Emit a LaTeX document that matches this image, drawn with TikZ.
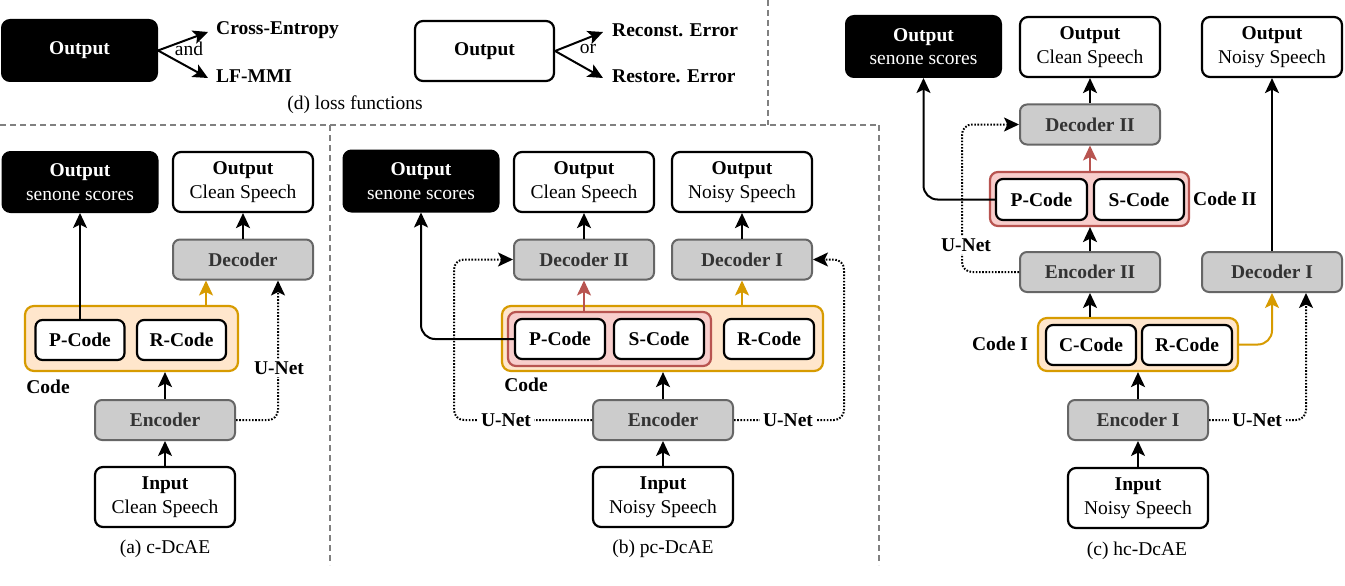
\documentclass[tikz,border=0pt]{standalone}
\usepackage{fontspec}
\setmainfont{Liberation Serif}
\usetikzlibrary{arrows.meta,calc}
\definecolor{orfill}{HTML}{FFE6CC}
\definecolor{ordraw}{HTML}{D79B00}
\definecolor{rdfill}{HTML}{F8CECC}
\definecolor{rddraw}{HTML}{B85450}
\definecolor{gyfill}{HTML}{CCCCCC}
\definecolor{gydraw}{HTML}{666666}
\definecolor{gytext}{HTML}{333333}
\definecolor{sepcol}{HTML}{808080}
\begin{document}
\begin{tikzpicture}[x=1pt,y=-1pt,
  every node/.style={font=\fontsize{19.5}{23.5}\selectfont, inner sep=0pt},
  sz/.style 2 args={minimum width=#1pt, minimum height=#2pt},
  blk/.style={draw=black, fill=black, text=white, rounded corners=8pt, line width=2pt, align=center},
  wht/.style={draw=black, fill=white, rounded corners=8pt, line width=2.2pt, align=center},
  gry/.style={draw=gydraw, fill=gyfill, text=gytext, rounded corners=7pt, line width=2pt, font=\fontsize{19.5}{23.5}\selectfont\bfseries},
  cod/.style={draw=black, fill=white, rounded corners=7pt, line width=2.2pt, font=\fontsize{19.5}{23.5}\selectfont\bfseries},
  orc/.style={draw=ordraw, fill=orfill, rounded corners=9pt, line width=2.2pt},
  rdc/.style={draw=rddraw, fill=rdfill, rounded corners=8pt, line width=2.2pt},
  lbl/.style={font=\fontsize{19.5}{23.5}\selectfont\bfseries},
  unet/.style={lbl, fill=white, inner sep=3pt},
  arr/.style={line width=2pt, -{Stealth[length=15pt,width=14pt,inset=3.5pt]}},
  dotarr/.style={arr, dash pattern=on 1.6pt off 1.6pt, rounded corners=10pt},
  sep/.style={draw=sepcol, line width=1.5pt, dash pattern=on 6pt off 4pt},
]
\fill[white] (0,0) rectangle (1345,586);
\useasboundingbox (0,0) rectangle (1345,586);

% separators
\draw[sep] (768,0) -- (768,125);
\draw[sep] (0,125) -- (879,125);
\draw[sep] (330,125) -- (330,565);
\draw[sep] (879,125) -- (879,565);

% (d) loss functions
\node[blk, sz={155}{61}] (lossB) at (79.5,50.5) {\textbf{Output}};
\node[lbl, anchor=west, inner xsep=8pt] (ce) at (208,30) {Cross-Entropy};
\node[lbl, anchor=west, inner xsep=8pt] (lf) at (208,76) {LF-MMI};
\node (and) at (189,49) {and};
\draw[arr] (lossB.east) -- ([yshift=-2pt]ce.west);
\draw[arr] (lossB.east) -- ([yshift=-2pt]lf.west);
\node[wht, sz={139}{60}] (lossW) at (484.5,51) {\textbf{Output}};
\node[lbl, anchor=west, inner xsep=9pt] (re) at (603,30) {Reconst. Error};
\node[lbl, anchor=west, inner xsep=9pt] (rs) at (603,76) {Restore. Error};
\node (or) at (588,49) {or};
\draw[arr] (lossW.east) -- ([yshift=-2pt]re.west);
\draw[arr] (lossW.east) -- ([yshift=-2pt]rs.west);
\node (capD) at (355,105) {(d) loss functions};

% (a) c-DcAE
\node[blk, sz={155}{60}] (outsA) at (80,182) {\textbf{Output}\\senone scores};
\node[wht, sz={140}{60}] (outcA) at (243,182) {\textbf{Output}\\Clean Speech};
\node[gry, sz={140}{40}] (decA) at (243,259.5) {Decoder};
\node[orc, sz={213}{65}] (codeA) at (131.5,338.5) {};
\node[cod, sz={89}{40}] (pA) at (80,340) {P-Code};
\node[cod, sz={89}{40}] (rA) at (181.5,340) {R-Code};
\node[lbl] (codeAl) at (48,387) {Code};
\node[gry, sz={140}{40}] (encA) at (165,420) {Encoder};
\node[wht, sz={140}{60}] (inA) at (165,497) {\textbf{Input}\\Clean Speech};
\node (capA) at (165,549) {(a) c-DcAE};
\draw[arr] (pA.north) -- (pA.north |- outsA.south);
\draw[arr] (decA.north) -- (outcA.south);
\draw[arr, color=ordraw] (codeA.north -| 206,0) -- (decA.south -| 206,0);
\draw[arr] (encA.north) -- (encA.north |- codeA.south);
\draw[arr] (inA.north) -- (encA.south);
\draw[dotarr] (encA.east) -| (decA.south -| 278,0);
\node[unet] (unA) at (279,368) {U-Net};

% (b) pc-DcAE
\node[blk, sz={155}{61}] (outsB) at (421,181) {\textbf{Output}\\senone scores};
\node[wht, sz={140}{60}] (outcB) at (584,182) {\textbf{Output}\\Clean Speech};
\node[wht, sz={140}{60}] (outnB) at (742,182) {\textbf{Output}\\Noisy Speech};
\node[gry, sz={140}{40}] (decIIB) at (584,259.5) {Decoder II};
\node[gry, sz={140}{40}] (decIB) at (742,259.5) {Decoder I};
\node[orc, sz={321}{65}] (codeB) at (662.5,338.5) {};
\node[rdc, sz={203}{54}] (redB) at (609.5,339) {};
\node[cod, sz={90}{40}] (pB) at (560,339) {P-Code};
\node[cod, sz={90}{40}] (sB) at (659,339) {S-Code};
\node[cod, sz={90}{40}] (rB) at (769,339) {R-Code};
\node[lbl] (codeBl) at (526,385) {Code};
\node[gry, sz={140}{40}] (encB) at (663,420) {Encoder};
\node[wht, sz={140}{60}] (inB) at (663,497) {\textbf{Input}\\Noisy Speech};
\node (capB) at (663,549) {(b) pc-DcAE};
\draw[arr, rounded corners=14pt] (pB.west) -| (outsB.south);
\draw[arr, color=rddraw] (redB.north -| decIIB.south) -- (decIIB.south);
\draw[arr, color=ordraw] (codeB.north -| decIB.south) -- (decIB.south);
\draw[arr] (decIIB.north) -- (outcB.south);
\draw[arr] (decIB.north) -- (outnB.south);
\draw[arr] (encB.north) -- (encB.north |- codeB.south);
\draw[arr] (inB.north) -- (encB.south);
\draw[dotarr] (encB.west) -| ([xshift=-59pt]decIIB.west) -- (decIIB.west);
\draw[dotarr] (encB.east) -| ([xshift=31pt]decIB.east) -- (decIB.east);
\node[unet] (unBl) at (506,420) {U-Net};
\node[unet] (unBr) at (788,420) {U-Net};

% (c) hc-DcAE
\node[blk, sz={155}{61}] (outsC) at (923.5,46.5) {\textbf{Output}\\senone scores};
\node[wht, sz={140}{60}] (outcC) at (1090,47) {\textbf{Output}\\Clean Speech};
\node[wht, sz={140}{60}] (outnC) at (1272,47) {\textbf{Output}\\Noisy Speech};
\node[gry, sz={140}{40}] (decIIC) at (1090,124.5) {Decoder II};
\node[rdc, sz={199}{54}] (redC) at (1089.5,199) {};
\node[cod, sz={91}{41}] (pC) at (1041.5,199.5) {P-Code};
\node[cod, sz={90}{41}] (sC) at (1139,199.5) {S-Code};
\node[lbl, anchor=west] (codeIIl) at (1193,199) {Code II};
\node[gry, sz={140}{40}] (encIIC) at (1090,272) {Encoder II};
\node[gry, sz={140}{40}] (decIC) at (1272,272) {Decoder I};
\node[orc, sz={200}{53}] (codeIC) at (1138,344.5) {};
\node[cod, sz={90}{40}] (cC) at (1091,345) {C-Code};
\node[cod, sz={90}{40}] (rC) at (1187,345) {R-Code};
\node[lbl] (codeIl) at (1000,344) {Code I};
\node[gry, sz={140}{40}] (encIC) at (1138,420) {Encoder I};
\node[wht, sz={140}{60}] (inC) at (1138,498) {\textbf{Input}\\Noisy Speech};
\node (capC) at (1137,551) {(c) hc-DcAE};
\draw[arr, rounded corners=14pt] (pC.west) -| (outsC.south);
\draw[arr, color=rddraw] (decIIC.south |- redC.north) -- (decIIC.south);
\draw[arr] (decIIC.north) -- (outcC.south);
\draw[arr] (encIIC.north) -- (encIIC.north |- redC.south);
\draw[arr] (decIC.north) -- (outnC.south);
\draw[arr] (encIIC.south |- codeIC.north) -- (encIIC.south);
\draw[arr] (encIC.north) -- (encIC.north |- codeIC.south);
\draw[arr] (inC.north) -- (encIC.south);
\draw[arr, color=ordraw, rounded corners=14pt] (codeIC.east) -| (decIC.south);
\draw[dotarr] (encIIC.west) -| ([xshift=-57pt]decIIC.west) -- (decIIC.west);
\draw[dotarr] (encIC.east) -| ([xshift=34pt]decIC.south);
\node[unet] (unCl) at (966,245) {U-Net};
\node[unet] (unCr) at (1257,420) {U-Net};
\end{tikzpicture}
\end{document}
